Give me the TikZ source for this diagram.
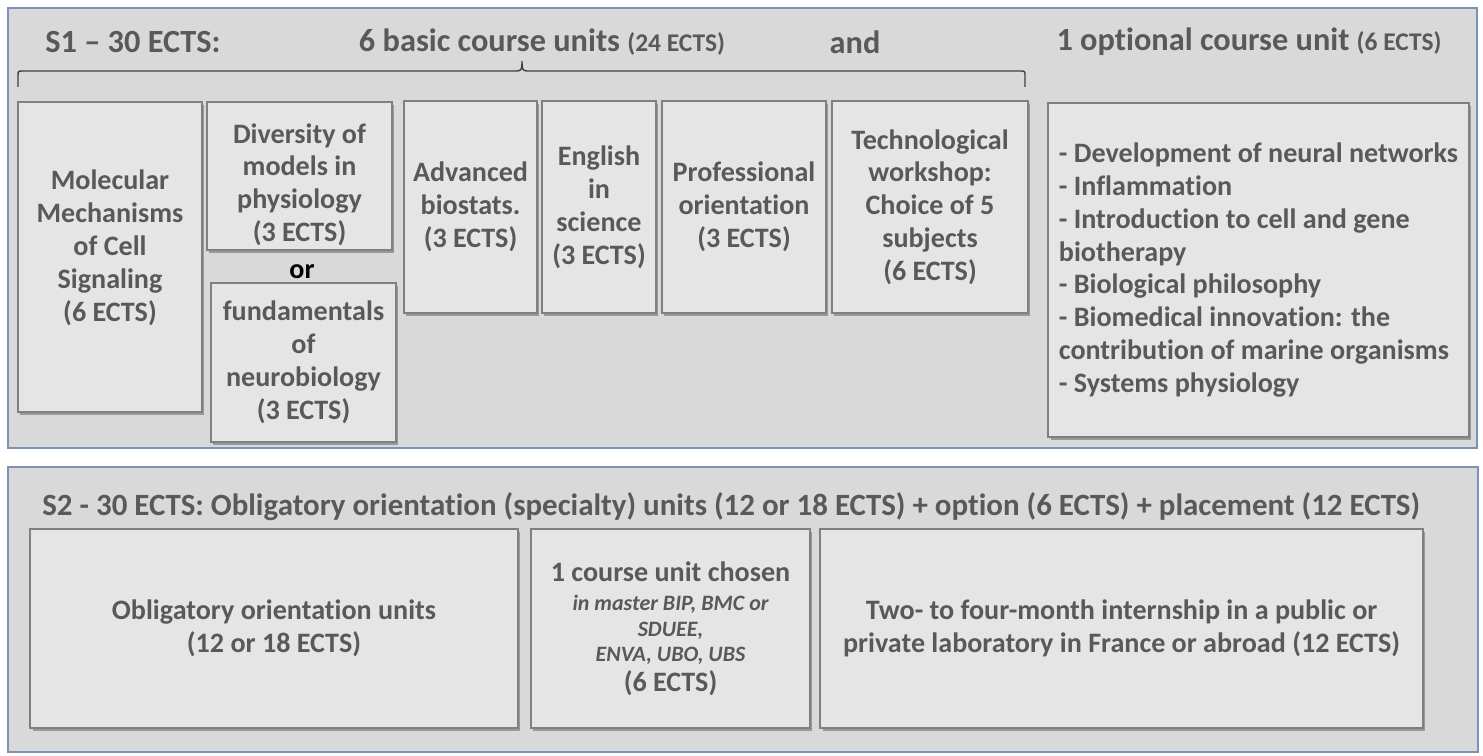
\documentclass[tikz,border=0pt]{standalone}
\usepackage{fontspec}
\setmainfont{Carlito}[Ligatures=NoCommon]
\usetikzlibrary{shadows}
\usetikzlibrary{positioning}
\definecolor{paneblue}{RGB}{120,146,184}
\definecolor{panegray}{RGB}{217,217,217}
\definecolor{boxgray}{RGB}{229,229,229}
\definecolor{boxline}{RGB}{128,128,128}
\definecolor{textgray}{RGB}{89,89,89}
\newcommand{\mysmallfont}{\fontsize{14.5}{17}\selectfont}
\newcommand{\myitalfont}{\fontsize{12.5}{14.6}\selectfont\itshape}
\tikzset{
    mypanel/.style = {draw=paneblue, fill=panegray, line width=0.6pt},
    mybox/.style = {rectangle, draw=boxline, fill=boxgray, line width=0.9pt, align=center, text=textgray, inner sep=2pt,
        font=\fontsize{16}{18.7}\selectfont\bfseries,
        drop shadow={shadow xshift=1.4pt, shadow yshift=-1.6pt, opacity=0.45, fill=black!70}},
    mytitle/.style = {text=textgray, inner sep=0pt, font=\fontsize{18.4}{21}\selectfont\bfseries},
    mybrace/.style = {draw=black!75, line width=0.8pt}
}

\begin{document}
\begin{tikzpicture}[x=0.02cm,y=-0.02cm]
\useasboundingbox[fill=white] (0,0) rectangle (1483,756);

% S1 panel
\draw[mypanel] (8,8) rectangle (1477,448);
\node[mytitle, anchor=west] at (45,42) (s1) {S1 -- 30 ECTS:};
\node[mytitle] at (542,42) (basic) {6 basic course units {\mysmallfont(24 ECTS)}};
\node[mytitle] at (855,42) (and) {and};
\node[mytitle] at (1249,42) (optt) {1 optional course unit {\mysmallfont(6 ECTS)}};

% brace over the 6 basic units
\coordinate (bl) at (18,87);
\coordinate (br) at (1025,87);
\coordinate (bt) at (522,61);
\draw[mybrace] (bl) -- (18,76) .. controls (18,71) .. (23,71) -- (517,71)
    .. controls (522,71) and (522,68) .. (bt)
    .. controls (522,68) and (522,71) .. (527,71) -- (1020,71)
    .. controls (1025,71) .. (1025,76) -- (br);

\node[mybox, minimum width=3.68cm, minimum height=6.20cm] at (110,257) (mol) {Molecular\\Mechanisms\\of Cell\\Signaling\\(6 ECTS)\\[-6pt]\mbox{}};
\node[mybox, minimum width=3.70cm, minimum height=2.96cm] at (299.5,176) (div) {\mbox{}\\[2.4pt]Diversity of\\models in\\physiology\\(3 ECTS)};
\node[mytitle, text=black, font=\fontsize{16}{18.7}\selectfont\bfseries] at (302,272) (or) {or};
\node[mybox, minimum width=3.70cm, minimum height=3.18cm] at (303.5,362.5) (fund) {fundamentals\\of\\neurobiology\\(3 ECTS)};
\node[mybox, minimum width=2.66cm, minimum height=4.24cm] at (470.5,207) (adv) {Advanced\\biostats.\\(3 ECTS)};
\node[mybox, minimum width=2.28cm, minimum height=4.24cm] at (599,207) (eng) {English\\in\\science\\(3 ECTS)};
\node[mybox, minimum width=3.28cm, minimum height=4.24cm] at (744,207) (prof) {Professional\\orientation\\(3 ECTS)};
\node[mybox, minimum width=3.92cm, minimum height=4.24cm] at (930,207) (tech) {Technological\\workshop:\\Choice of 5\\subjects\\(6 ECTS)};
\node[mybox, align=left, minimum width=8.42cm, minimum height=6.68cm] at (1258.5,270) (opt) {- Development of neural networks\\- Inflammation\\- Introduction to cell and gene\\biotherapy\\- Biological philosophy\\- Biomedical innovation: the\\contribution of marine organisms\\- Systems physiology};

% S2 panel
\draw[mypanel] (8,467) rectangle (1478,752);
\node[mytitle, anchor=west, font=\fontsize{17.6}{20}\selectfont\bfseries] at (42,507) (s2) {S2 - 30 ECTS: Obligatory orientation (specialty) units (12 or 18 ECTS) + option (6 ECTS) + placement (12 ECTS)};

\node[mybox, minimum width=9.76cm, minimum height=3.98cm] at (274,628.5) (obl) {Obligatory orientation units\\(12 or 18 ECTS)};
\node[mybox, minimum width=5.58cm, minimum height=3.98cm] at (670.5,628.5) (cu) {1 course unit chosen\\[-2.3pt]{\myitalfont in master BIP, BMC or}\\[-4pt]{\myitalfont SDUEE,}\\[-4.4pt]{\myitalfont ENVA, UBO, UBS}\\[-1.7pt](6 ECTS)};
\node[mybox, minimum width=12.06cm, minimum height=3.98cm] at (1121.5,628.5) (intern) {Two- to four-month internship in a public or\\private laboratory in France or abroad (12 ECTS)};

\end{tikzpicture}
\end{document}
